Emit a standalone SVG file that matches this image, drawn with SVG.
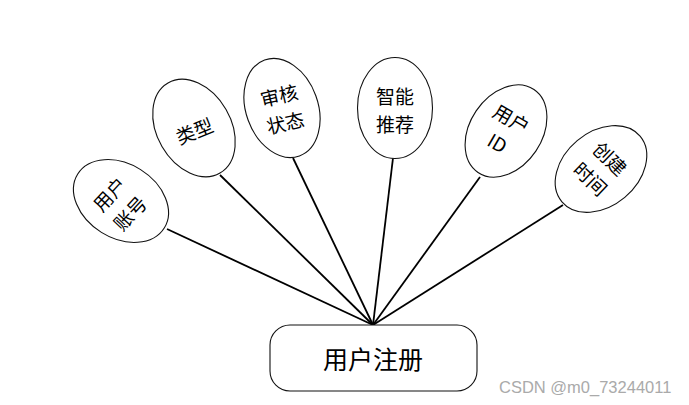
<svg xmlns="http://www.w3.org/2000/svg" width="689" height="405" viewBox="0 0 689 405">
<style>
.e{fill:#fff;stroke:#111;stroke-width:1.1}
.t{font-family:"Noto Sans CJK SC","Liberation Sans",sans-serif;font-size:19px;fill:#000;text-anchor:middle;dominant-baseline:central}
.c{stroke:#000;stroke-width:1.8;fill:none}
</style>
<rect width="689" height="405" fill="#fff"/>
<g id="connectors">
<line class="c" x1="167" y1="229" x2="373" y2="325"/>
<line class="c" x1="220" y1="175" x2="373" y2="325"/>
<line class="c" x1="293" y1="158" x2="373" y2="325"/>
<line class="c" x1="393" y1="158" x2="373" y2="325"/>
<line class="c" x1="480" y1="177" x2="373" y2="325"/>
<line class="c" x1="563" y1="205" x2="373" y2="325"/>
</g>
<g id="n1">
<ellipse class="e" cx="0" cy="0" rx="37" ry="51" transform="translate(121,201) rotate(-58)"/>
<g transform="translate(119,203) rotate(-47)">
<text class="t" x="0" y="-14">用户</text>
<text class="t" x="0" y="14">账号</text>
</g>
</g>
<g id="n2">
<ellipse class="e" cx="0" cy="0" rx="37" ry="52" transform="translate(194,128) rotate(-30)"/>
<text class="t" transform="translate(194,130) rotate(-22)">类型</text>
</g>
<g id="n3">
<ellipse class="e" cx="0" cy="0" rx="36" ry="51" transform="translate(282,108) rotate(-20)"/>
<g transform="translate(282,108) rotate(-13)">
<text class="t" x="0" y="-14">审核</text>
<text class="t" x="0" y="14">状态</text>
</g>
</g>
<g id="n4">
<ellipse class="e" cx="395" cy="108" rx="37.5" ry="50.5"/>
<text class="t" x="395" y="95">智能</text>
<text class="t" x="395" y="123">推荐</text>
</g>
<g id="n5">
<ellipse class="e" cx="0" cy="0" rx="36" ry="50" transform="translate(506,131) rotate(34)"/>
<g transform="translate(505,130) rotate(30)">
<text class="t" x="0" y="-14">用户</text>
<text class="t" x="0" y="14">ID</text>
</g>
</g>
<g id="n6">
<ellipse class="e" cx="0" cy="0" rx="37" ry="51" transform="translate(601,169) rotate(50)"/>
<g transform="translate(601,168) rotate(44)">
<text class="t" x="0" y="-14">创建</text>
<text class="t" x="0" y="14">时间</text>
</g>
</g>
<g id="main">
<rect x="270" y="325" width="207" height="66" rx="20" ry="20" fill="#fff" stroke="#111" stroke-width="1.1"/>
<text class="t" x="373" y="358" style="font-size:25px">用户注册</text>
</g>
<text x="499" y="393" font-family="Liberation Sans, sans-serif" font-size="16.5" fill="#aaa">CSDN @m0_73244011</text>
</svg>
